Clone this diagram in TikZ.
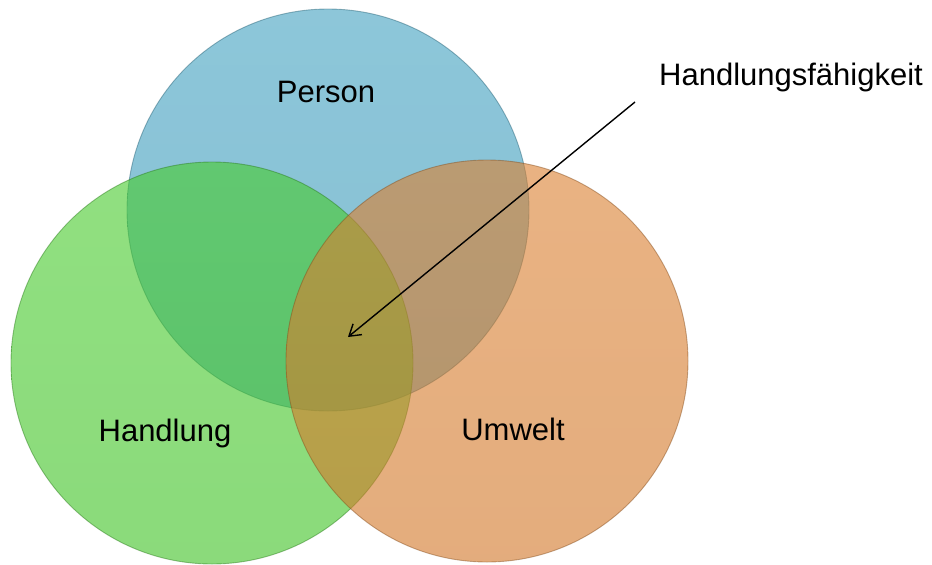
\documentclass[tikz,border=0pt]{standalone}
\usepackage{fontspec}
\setmainfont{Liberation Sans}
\usetikzlibrary{arrows.meta}
\definecolor{cblue}{RGB}{57,157,190}
\definecolor{cgreen}{RGB}{64,202,36}
\definecolor{corange}{RGB}{218,123,40}
\tikzset{
  venn/.style={fill opacity=0.6, draw opacity=0.45, line width=0.9pt},
  lbl/.style={font=\fontsize{31}{36}\selectfont, anchor=base, inner sep=0pt},
  pointer/.style={-{Straight Barb[length=11pt,width=14pt,line width=1.4pt]}, line width=1.4pt}
}
\begin{document}
\begin{tikzpicture}[x=1pt,y=-1pt]
\useasboundingbox (0,0) rectangle (932,565);
\fill[white] (0,0) rectangle (932,565);
\draw[venn, top color=cblue!96!white, bottom color=cblue!96!black, draw=cblue!60!black] (328,210) circle[radius=201];
\draw[venn, top color=cgreen!96!white, bottom color=cgreen!96!black, draw=cgreen!60!black] (212,363) circle[radius=201];
\draw[venn, top color=corange!96!white, bottom color=corange!96!black, draw=corange!60!black] (487,361) circle[radius=201];
\node[lbl] (person) at (326,102) {Person};
\node[lbl] (handlung) at (165,441) {Handlung};
\node[lbl] (umwelt) at (513,440) {Umwelt};
\node[lbl] (hf) at (791,85) {Handlungsfähigkeit};
\coordinate (start) at (635,102);
\coordinate (tip) at (348,337);
\draw[pointer] (start) -- (tip);
\end{tikzpicture}
\end{document}
